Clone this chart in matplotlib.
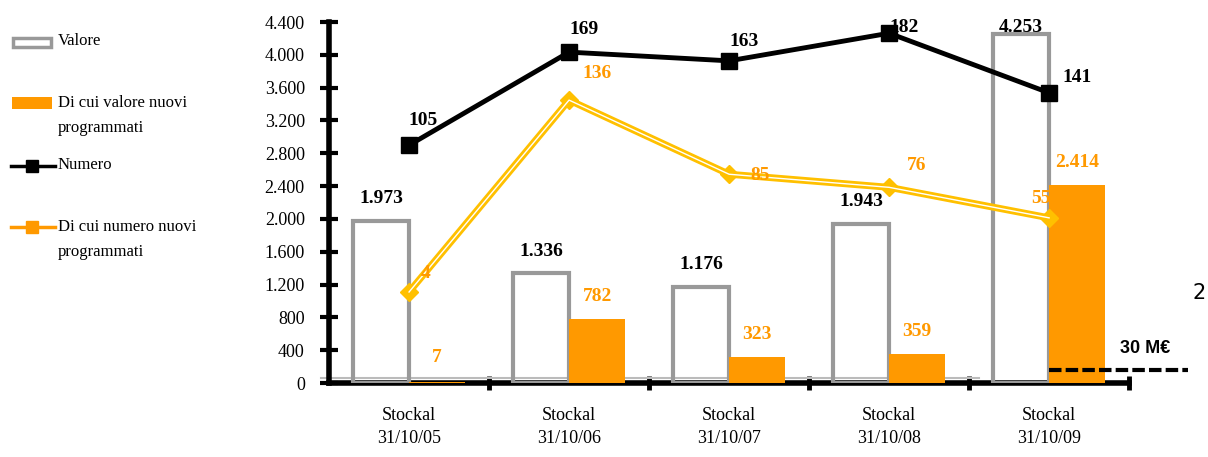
import matplotlib
matplotlib.use('Agg')
import matplotlib.pyplot as plt
import numpy as np
from matplotlib.lines import Line2D
from matplotlib.patches import Rectangle

# data
categories = ['Stockal\n31/10/05', 'Stockal\n31/10/06', 'Stockal\n31/10/07',
              'Stockal\n31/10/08', 'Stockal\n31/10/09']
valore = [1973, 1336, 1176, 1943, 4253]
valore_nuovi = [7, 782, 323, 359, 2414]
numero = [105, 169, 163, 182, 141]
numero_nuovi = [4, 136, 85, 76, 55]
soglia_label = '30 M€'
soglia_value = 158      # dashed threshold level (left axis units)
base_value = 61         # thin grey baseline
y_ticks = [0, 400, 800, 1200, 1600, 2000, 2400, 2800, 3200, 3600, 4000, 4400]

grey = '#999999'
orange = '#FF9900'
gold = '#FFC000'
serif = 'Liberation Serif'

def it_fmt(v):
    # italian thousands separator
    return '{:,}'.format(v).replace(',', '.')

fig = plt.figure(figsize=(12.08, 4.57), dpi=100)
ax = fig.add_axes([0.2724, 0.1619, 0.6623, 0.7899])
ax2 = ax.twinx()

x = np.arange(len(categories))
w = 0.35

#bars on the main axis
ax.bar(x - w / 2, valore, w, facecolor='none', edgecolor=grey, linewidth=3, zorder=3)
ax.bar(x + w / 2, valore_nuovi, w, color=orange, zorder=3)
ax.plot([-0.55, 3.56], [base_value, base_value], color='#bbbbbb', lw=1.5, zorder=2, clip_on=False)
ax.plot([4.0, 4.87], [soglia_value, soglia_value], color='black', lw=3, ls=(0, (3, 1)),
        zorder=5, clip_on=False)
ax.text(4.44, soglia_value + 160, soglia_label, fontsize=13, fontweight='bold',
        family='Liberation Sans', ha='left', va='bottom', zorder=6)

# bar labels
for i, v in enumerate(valore):
    off = 5 if v > 4000 else 16
    ax.annotate(it_fmt(v), (x[i] - w / 2, v), xytext=(0, off), textcoords='offset points',
                ha='center', va='center', fontsize=14, fontweight='bold', family=serif,
                color='black', zorder=6, annotation_clip=False)
for i, v in enumerate(valore_nuovi):
    ax.annotate(it_fmt(v), (x[i] + w / 2, max(v, 40)), xytext=(0, 16), textcoords='offset points',
                ha='center', va='center', fontsize=14, fontweight='bold', family=serif,
                color=orange, zorder=6)

ax.set_xlim(-0.5, 4.5)
ax.set_ylim(0, 4400)
ax.set_yticks(y_ticks)
ax.set_yticklabels([it_fmt(t) for t in y_ticks], fontsize=13, family=serif)
ax.tick_params(axis='y', direction='inout', length=13, width=3, pad=11)
ax.set_xticks(np.arange(0.5, 5, 1))
ax.set_xticklabels([])
ax.set_xticks(x, minor=True)
ax.set_xticklabels(categories, minor=True, fontsize=13, family=serif, linespacing=1.5)
ax.tick_params(axis='x', which='major', direction='inout', length=10, width=3.5)
ax.tick_params(axis='x', which='minor', length=0, pad=17)
for s in ['top', 'right']:
    ax.spines[s].set_visible(False)
ax.spines['left'].set_linewidth(4)
ax.spines['bottom'].set_linewidth(4)
ax.patch.set_visible(False)

# lines on the secondary (hidden) axis
ax2.set_ylim(-58.6, 189.7)
ax2.plot(x, numero, color='black', lw=3.5, marker='s', markersize=11, zorder=4)
ax2.plot(x, numero_nuovi, color=gold, lw=5, marker='D', markersize=9, zorder=4)
ax2.plot(x, numero_nuovi, color='white', lw=1, zorder=4)
num_off = [(10, 18), (11, 16), (11, 14), (11, 4), (20, 11)]
for i, v in enumerate(numero):
    ax2.annotate(str(v), (x[i], v), xytext=num_off[i], textcoords='offset points',
                 ha='center', va='center', fontsize=14, fontweight='bold', family=serif,
                 color='black', zorder=6, annotation_clip=False)
nuovi_off = [(12, 13), (20, 19), (22, -1), (20, 16), (-6, 14)]
for i, v in enumerate(numero_nuovi):
    ax2.annotate(str(v), (x[i], v), xytext=nuovi_off[i], textcoords='offset points',
                 ha='center', va='center', fontsize=14, fontweight='bold', family=serif,
                 color=orange, zorder=6)
ax2.set_yticks([])
for s in ax2.spines.values():
    s.set_visible(False)

# legend on the left, placed by hand
H, W = 457, 1208
def fx(px):
    return px / W
def fy(py):
    return 1 - py / H

fig.patches.append(Rectangle((fx(13), fy(47)), fx(38), 9 / H, transform=fig.transFigure,
                             facecolor='white', edgecolor=grey, lw=2.5))
fig.patches.append(Rectangle((fx(12), fy(109)), fx(40), 12 / H, transform=fig.transFigure,
                             facecolor=orange, edgecolor='none'))
fig.lines.append(Line2D([fx(11), fx(32), fx(55)], [fy(166)] * 3, transform=fig.transFigure,
                        color='black', lw=2.5, marker='s', markersize=8, markevery=[1]))
fig.lines.append(Line2D([fx(11), fx(32), fx(55)], [fy(227)] * 3, transform=fig.transFigure,
                        color=orange, lw=2.5, marker='s', markersize=8, markevery=[1]))

legend_text = [('Valore', 42), ('Di cui valore nuovi\nprogrammati', 104),
               ('Numero', 166), ('Di cui numero nuovi\nprogrammati', 228)]
for txt, py in legend_text:
    fig.text(fx(58), fy(py) + 9 / H, txt, fontsize=12, family=serif, ha='left', va='top',
             linespacing=1.75)

fig.text(fx(1192), fy(293), '2', fontsize=15, family='DejaVu Sans', ha='left', va='center')

fig.savefig('out.png', dpi=100)
